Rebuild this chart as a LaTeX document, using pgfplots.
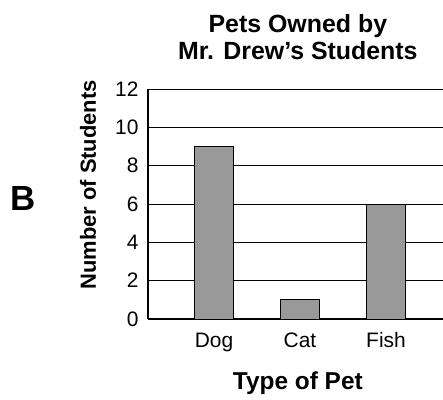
\documentclass[border=0pt]{standalone}
\usepackage{pgfplots}
\pgfplotsset{compat=1.18}
\usepackage{fontspec}
\setmainfont{Liberation Sans}
\definecolor{barg}{RGB}{153,153,153}
\begin{document}
\begin{tikzpicture}[x=1bp,y=1bp]
\path[use as bounding box] (0,0) rectangle (443,399);
\begin{axis}[
  at={(148bp,80bp)}, anchor=south west,
  scale only axis, width=295bp, height=230bp,
  xmin=-0.767, xmax=2.663, ymin=0, ymax=12,
  ytick={0,2,...,12}, xtick={0,1,2}, xticklabels={Dog,Cat,Fish},
  ymajorgrids, grid style={black, line width=0.7bp},
  axis x line*=bottom, axis y line*=left,
  axis line style={black, line width=1.5bp},
  major tick length=0pt,
  /pgf/number format/assume math mode=true,
  tick label style={font=\fontsize{21}{22}\selectfont},
  yticklabel style={anchor=east, xshift=-6bp},
  xticklabel style={anchor=base, yshift=-28bp},
  title={Pets Owned by\\Mr. Drew’s Students},
  title style={at={(axis description cs:0.508,1.198)}, anchor=center, align=center,
    font=\fontsize{25}{27}\selectfont\bfseries},
  xlabel={Type of Pet},
  xlabel style={at={(axis description cs:0.508,-0.278)}, anchor=center,
    font=\fontsize{24.5}{26}\selectfont\bfseries},
  ylabel={Number of Students},
  ylabel style={at={(axis description cs:-0.203,0.583)}, anchor=center, rotate=0,
    font=\fontsize{22}{24}\selectfont\bfseries},
]
\addplot[ybar, bar width=0.45, fill=barg, draw=black, line width=1bp]
  coordinates {(0,9) (1,1) (2,6)};
\end{axis}
\node[font=\fontsize{35}{35}\selectfont\bfseries] at (23.5,200) {B};
\end{tikzpicture}
\end{document}
